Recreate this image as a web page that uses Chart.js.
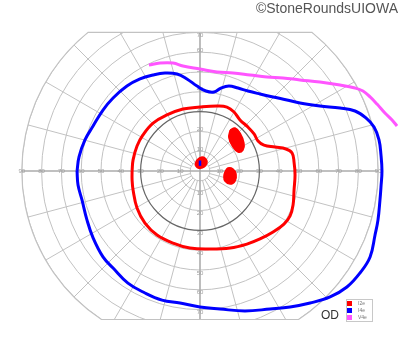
<!DOCTYPE html>
<html>
<head>
<meta charset="utf-8">
<script src="https://cdn.jsdelivr.net/npm/chart.js@4.4.0/dist/chart.umd.min.js"></script>
<style>
    html, body { margin: 0; padding: 0; background: #fff; }
    #wrap { position: relative; width: 400px; height: 352px; }
    #copy { position: absolute; right: 2px; top: 0px; font: 14px "Liberation Sans", Arial, sans-serif; color: #555; }
    #eye { position: absolute; left: 321px; top: 308px; font: 12px "Liberation Sans", Arial, sans-serif; color: #333; }
</style>
</head>
<body>
<div id="wrap">
    <canvas id="fieldChart" width="400" height="352"></canvas>
    <div id="copy">©StoneRoundsUIOWA</div>
    <div id="eye">OD</div>
</div>
<script>
// isopters, in degrees of visual field (x = temporal/nasal, y = superior/inferior)
const i2eIsopter = [
    [-34.3, 0], [-33.8, 5.6], [-31.8, 12.6], [-28.8, 18.2], [-23.7, 24.2], [-16.7, 28.3],
    [-8.6, 31.3], [0, 32.3], [8.6, 32.8], [13.6, 32.3], [17.2, 29.8], [20.2, 25.8],
    [24.2, 22.2], [27.3, 18.7], [29.3, 15.2], [32.3, 13.1], [37.9, 12.1], [43.4, 11.1],
    [46.5, 9.1], [47.5, 4.5], [48.0, -2.0], [47.5, -9.6], [47.0, -17.2], [45.5, -22.7],
    [42.4, -26.8], [36.9, -30.8], [30.3, -34.3], [23.7, -36.9], [15.2, -38.9], [5.1, -39.4],
    [-5.1, -38.9], [-13.6, -36.4], [-21.7, -32.3], [-27.8, -26.3], [-31.8, -18.7],
    [-33.8, -9.6], [-34.3, -4.5]
];
const i4eIsopter = [
    [-62.1, 0], [-61.1, 7.1], [-58.1, 15.7], [-54.0, 22.7], [-49.0, 30.8], [-43.9, 36.9],
    [-36.9, 42.9], [-30.3, 46.5], [-23.7, 48.5], [-17.7, 49.5], [-11.6, 49.0], [-6.6, 46.5],
    [-1.5, 42.9], [3.0, 40.4], [7.1, 39.9], [10.6, 41.9], [14.6, 42.9], [19.2, 41.9],
    [24.2, 40.4], [30.3, 38.9], [36.9, 37.4], [43.9, 35.9], [50.5, 34.3], [60.6, 32.8],
    [70.7, 31.8], [78.3, 30.3], [83.8, 26.8], [87.9, 22.2], [90.4, 15.7], [91.4, 8.1],
    [91.9, 0], [91.4, -8.1], [90.9, -14.6], [89.9, -24.7], [88.4, -32.3], [85.9, -43.4],
    [80.8, -51.5], [74.2, -58.6], [65.7, -63.6], [55.6, -66.7], [45.5, -68.7], [35.4, -69.7],
    [22.7, -70.7], [10.1, -69.7], [0, -68.7], [-10.1, -66.7], [-19.2, -65.2], [-27.8, -61.6],
    [-36.4, -56.6], [-43.9, -49.0], [-49.0, -43.4], [-54.0, -33.8], [-57.1, -24.7],
    [-59.6, -14.6], [-61.6, -7.1]
];
const v4eIsopter = [
    [-25.8, 53.5], [-20.2, 54.5], [-13.6, 54.5], [-8.6, 53.0], [0, 51.5], [8.6, 50.0],
    [16.7, 49.5], [25.3, 48.5], [33.8, 47.5], [41.9, 47.0], [50.5, 46.0], [60.6, 44.9],
    [70.7, 43.4], [78.3, 41.9], [82.3, 40.4], [85.9, 37.4], [89.4, 33.8], [93.4, 29.3],
    [97.0, 25.8], [99.5, 22.7]
];

// scotomas
const i2eScotomaCentral = [[-2.5, 3.0], [-1.5, 5.6], [1.0, 7.1], [3.0, 6.1], [3.5, 4.0], [2.0, 2.0], [-1.0, 1.5]];
const i2eScotomaUpper = [[15.2, 20.7], [17.7, 21.7], [20.2, 19.2], [22.2, 14.1], [21.7, 10.6], [19.2, 9.6], [16.7, 12.1], [14.6, 16.7]];
const i2eScotomaLower = [[12.6, -0.5], [14.1, 1.5], [16.7, 1.0], [18.2, -1.5], [17.7, -5.1], [15.2, -6.6], [12.6, -5.1], [12.1, -2.5]];
const i4eScotomaCentral = [[0, 2.6], [0, 5.3]];

// grid and labels
const ringValues = [5, 10, 20, 30, 40, 50, 60, 70, 80, 90];
const horizontalTicks = [10, 20, 30, 40, 50, 60, 70, 80, 90];
const verticalTicksUp = [10, 20, 30, 40, 50, 60, 70];
const verticalTicksDown = [10, 20, 30, 40, 50, 60, 70];
const legendLabels = ["I2e", "I4e", "V4e"];
const legendColors = ["#ff0000", "#0000ff", "#ff55ff"];

const OUTER = 90, TOP_LIMIT = 70, BOTTOM_LIMIT = 75;
const PX_PER_DEG = 1.98, CENTER_X = 200, CENTER_Y = 171;

function pts(list, closed) {
    const p = list.map(([x, y]) => ({ x, y }));
    if (closed) p.push({ ...p[0] });
    return p;
}

function isopter(label, list, color, closed) {
    return {
        label, data: pts(list, closed), borderColor: color, backgroundColor: color,
        borderWidth: 3, tension: 0.4, pointRadius: 0, fill: false
    };
}

function scotoma(list, color) {
    return {
        label: "", data: pts(list, true), borderColor: color, backgroundColor: color,
        borderWidth: 1.5, tension: 0.45, pointRadius: 0, fill: "shape"
    };
}

const gridPlugin = {
    id: "perimetryGrid",
    beforeDatasetsDraw(chart) {
        const { ctx, scales: { x, y } } = chart;
        const cx = x.getPixelForValue(0), cy = y.getPixelForValue(0);
        const kx = x.getPixelForValue(1) - cx, ky = cy - y.getPixelForValue(1);
        const R = OUTER * kx;
        const yTop = y.getPixelForValue(TOP_LIMIT), yBot = y.getPixelForValue(-BOTTOM_LIMIT);
        const at = Math.asin(TOP_LIMIT / OUTER), ab = Math.asin(BOTTOM_LIMIT / OUTER);

        function boundary() {
            ctx.beginPath();
            ctx.moveTo(cx - R * Math.cos(at), yTop);
            ctx.lineTo(cx + R * Math.cos(at), yTop);
            ctx.arc(cx, cy, R, -at, ab);
            ctx.lineTo(cx - R * Math.cos(ab), yBot);
            ctx.arc(cx, cy, R, Math.PI - ab, Math.PI + at);
            ctx.closePath();
        }

        ctx.save();
        boundary();
        ctx.clip();

        ctx.strokeStyle = "#c2c2c2";
        ctx.lineWidth = 1;
        ringValues.forEach(r => {
            if (r === 30) return;
            ctx.beginPath();
            ctx.ellipse(cx, cy, r * kx, r * ky, 0, 0, 2 * Math.PI);
            ctx.stroke();
        });

        ctx.beginPath();
        for (let a = 0; a < 360; a += 15) {
            if (a % 90 === 0) continue;
            const t = a * Math.PI / 180;
            ctx.moveTo(cx + 5 * kx * Math.cos(t), cy - 5 * ky * Math.sin(t));
            ctx.lineTo(cx + 110 * kx * Math.cos(t), cy - 110 * ky * Math.sin(t));
        }
        ctx.stroke();

        ctx.strokeStyle = "#acacac";
        ctx.lineWidth = 1.6;
        ctx.beginPath();
        ctx.moveTo(cx - R, cy);
        ctx.lineTo(cx + R, cy);
        ctx.moveTo(cx, yTop);
        ctx.lineTo(cx, yBot);
        ctx.stroke();

        ctx.strokeStyle = "#666";
        ctx.lineWidth = 1.2;
        ctx.beginPath();
        ctx.ellipse(cx, cy, 30 * kx, 30 * ky, 0, 0, 2 * Math.PI);
        ctx.stroke();
        ctx.restore();

        ctx.save();
        ctx.strokeStyle = "#c2c2c2";
        ctx.lineWidth = 1.2;
        boundary();
        ctx.stroke();

        ctx.fillStyle = "#a0a0a0";
        ctx.font = '6px "Liberation Sans", Arial, sans-serif';
        ctx.textAlign = "center";
        ctx.textBaseline = "middle";
        horizontalTicks.forEach(v => {
            ctx.fillText(String(v), x.getPixelForValue(-v), cy);
            ctx.fillText(String(v), x.getPixelForValue(v), cy);
        });
        verticalTicksUp.forEach(v => {
            ctx.fillText(String(v), cx, y.getPixelForValue(Math.min(v + 1, TOP_LIMIT - 1.5)));
        });
        verticalTicksDown.forEach(v => {
            ctx.fillText(String(v), cx, y.getPixelForValue(-Math.min(v + 1.5, BOTTOM_LIMIT - 2)));
        });
        ctx.restore();
    },
    afterDraw(chart) {
        const { ctx } = chart;
        ctx.save();
        ctx.fillStyle = "#fff";
        ctx.strokeStyle = "#c8c8c8";
        ctx.lineWidth = 1;
        ctx.fillRect(346, 299, 27, 23);
        ctx.strokeRect(346.5, 299.5, 26, 22);
        ctx.font = '5px "Liberation Sans", Arial, sans-serif';
        ctx.textBaseline = "middle";
        legendLabels.forEach((label, i) => {
            const yy = 303.5 + i * 7;
            ctx.fillStyle = legendColors[i];
            ctx.fillRect(347, yy - 2.5, 5, 5);
            ctx.fillStyle = "#777";
            ctx.fillText(label, 358, yy);
        });
        ctx.restore();
    }
};

new Chart(document.getElementById("fieldChart"), {
    type: "line",
    data: {
        datasets: [
            { ...isopter("I4e scotoma", i4eScotomaCentral, "#0000ff", false), borderWidth: 2.5, tension: 0, order: 0 },
            { ...scotoma(i2eScotomaCentral, "#ff0000"), order: 1 },
            { ...scotoma(i2eScotomaUpper, "#ff0000"), order: 1 },
            { ...scotoma(i2eScotomaLower, "#ff0000"), order: 1 },
            { ...isopter("I2e", i2eIsopter, "#ff0000", true), order: 2 },
            { ...isopter("I4e", i4eIsopter, "#0000ff", true), order: 2 },
            { ...isopter("V4e", v4eIsopter, "#ff55ff", false), order: 2 }
        ]
    },
    options: {
        responsive: false,
        animation: false,
        layout: { padding: 0 },
        plugins: { legend: { display: false }, tooltip: { enabled: false } },
        scales: {
            x: { type: "linear", display: false, min: -CENTER_X / PX_PER_DEG, max: (400 - CENTER_X) / PX_PER_DEG },
            y: { type: "linear", display: false, min: -(352 - CENTER_Y) / PX_PER_DEG, max: CENTER_Y / PX_PER_DEG }
        }
    },
    plugins: [gridPlugin]
});
</script>
</body>
</html>
